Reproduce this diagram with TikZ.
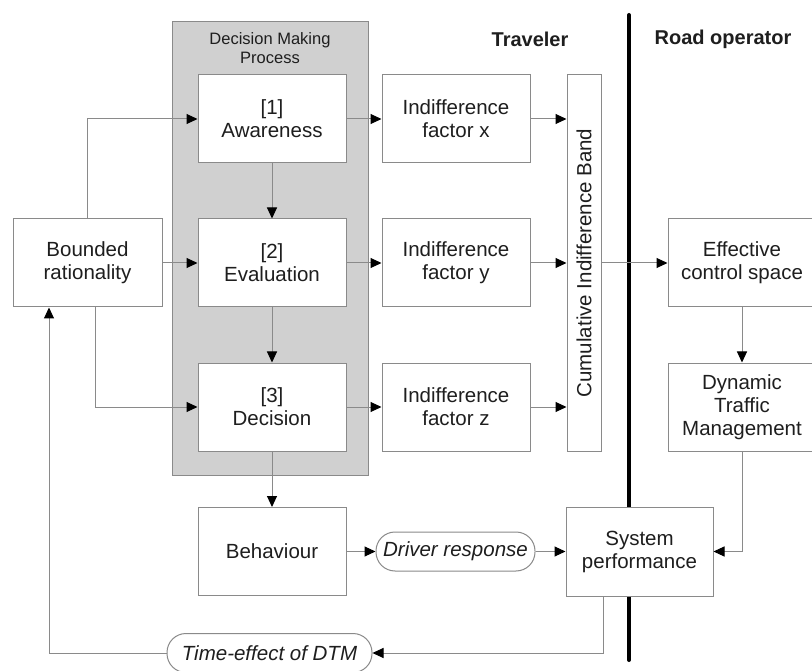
\documentclass[tikz,border=0pt]{standalone}
\usepackage{fontspec}
\setmainfont{Liberation Sans}
\usetikzlibrary{arrows.meta}
\definecolor{edgegray}{HTML}{8A8A8A}
\definecolor{panelgray}{HTML}{D0D0D0}
\definecolor{inkgray}{HTML}{1E1E1E}
\begin{document}
\begin{tikzpicture}[x=1pt,y=-1pt,
    font=\fontsize{20.5}{23}\selectfont,
    blk/.style={draw=edgegray,fill=white,text=inkgray,align=center,
      minimum width=148pt,minimum height=88pt,inner sep=0pt,line width=1pt},
    pill/.style={draw=edgegray,fill=white,text=inkgray,rounded corners=19pt,
      minimum height=39pt,inner sep=0pt,line width=1pt,font=\fontsize{20.5}{23}\selectfont\itshape},
    link/.style={draw=edgegray,line width=1pt,
      -{Triangle[length=11pt,width=10pt,color=black]}}]
  \useasboundingbox (0,0) rectangle (812,671);
  \fill[white] (0,0) rectangle (812,671);
  % decision making panel
  \draw[edgegray,fill=panelgray,line width=1pt] (172,22) rectangle (368,475);
  \node[text=inkgray,align=center,font=\fontsize{16.5}{19}\selectfont] (dmp) at (270,48)
    {Decision Making\\Process};
  % headings and the divide
  \node[text=inkgray,font=\fontsize{20}{23}\selectfont\bfseries] (trav) at (530,39) {Traveler};
  \node[text=inkgray,font=\fontsize{20}{23}\selectfont\bfseries] (road) at (723,39) {Road operator};
  \draw[black,line width=4pt,line cap=round] (629,15) -- (629,660);
  % boxes
  \draw
    (272,119) node[blk] (aw) {[1]\\Awareness}
    (272,263) node[blk] (ev) {[2]\\Evaluation}
    (272,407) node[blk] (dec) {[3]\\Decision}
    (272,551.5) node[blk] (beh) {Behaviour}
    (87.5,263) node[blk,minimum width=149pt] (br) {Bounded\\rationality}
    (456,119) node[blk] (ix) {Indifference\\factor x}
    (456,263) node[blk] (iy) {Indifference\\factor y}
    (456,407) node[blk] (iz) {Indifference\\factor z}
    (584,263) node[blk,minimum width=34pt,minimum height=376pt] (band) {}
    (742,263) node[blk] (eff) {Effective\\control space}
    (742,407) node[blk] (dtm) {Dynamic\\Traffic\\Management}
    (639.5,551.5) node[blk,minimum width=147pt,minimum height=89pt] (sp) {System\\performance}
    (455.5,551.5) node[pill,minimum width=159pt] (dr) {Driver response}
    (269.5,653) node[pill,minimum width=205pt] (te) {Time-effect of DTM};
  \node[rotate=90,text=inkgray] (bandtxt) at (band.center) {Cumulative Indifference Band};
  % connectors
  \begin{scope}[link]
    \draw (br.north) |- (aw.west);
    \draw (br.east) -- (ev.west);
    \draw ([xshift=7.5pt]br.south) |- (dec.west);
    \draw (aw) -- (ev);
    \draw (ev) -- (dec);
    \draw (dec) -- (beh);
    \draw (aw) -- (ix);
    \draw (ev) -- (iy);
    \draw (dec) -- (iz);
    \draw (ix.east) -- (ix.east -| band.west);
    \draw (iy.east) -- (iy.east -| band.west);
    \draw (iz.east) -- (iz.east -| band.west);
    \draw (band.east) -- (eff.west);
    \draw (eff) -- (dtm);
    \draw (dtm.south) |- (sp.east);
    \draw (beh) -- (dr);
    \draw (dr) -- (sp);
    \draw ([xshift=-36.5pt]sp.south) |- (te.east);
    \draw (te.west) -| ([xshift=-38.5pt]br.south);
  \end{scope}
\end{tikzpicture}
\end{document}
